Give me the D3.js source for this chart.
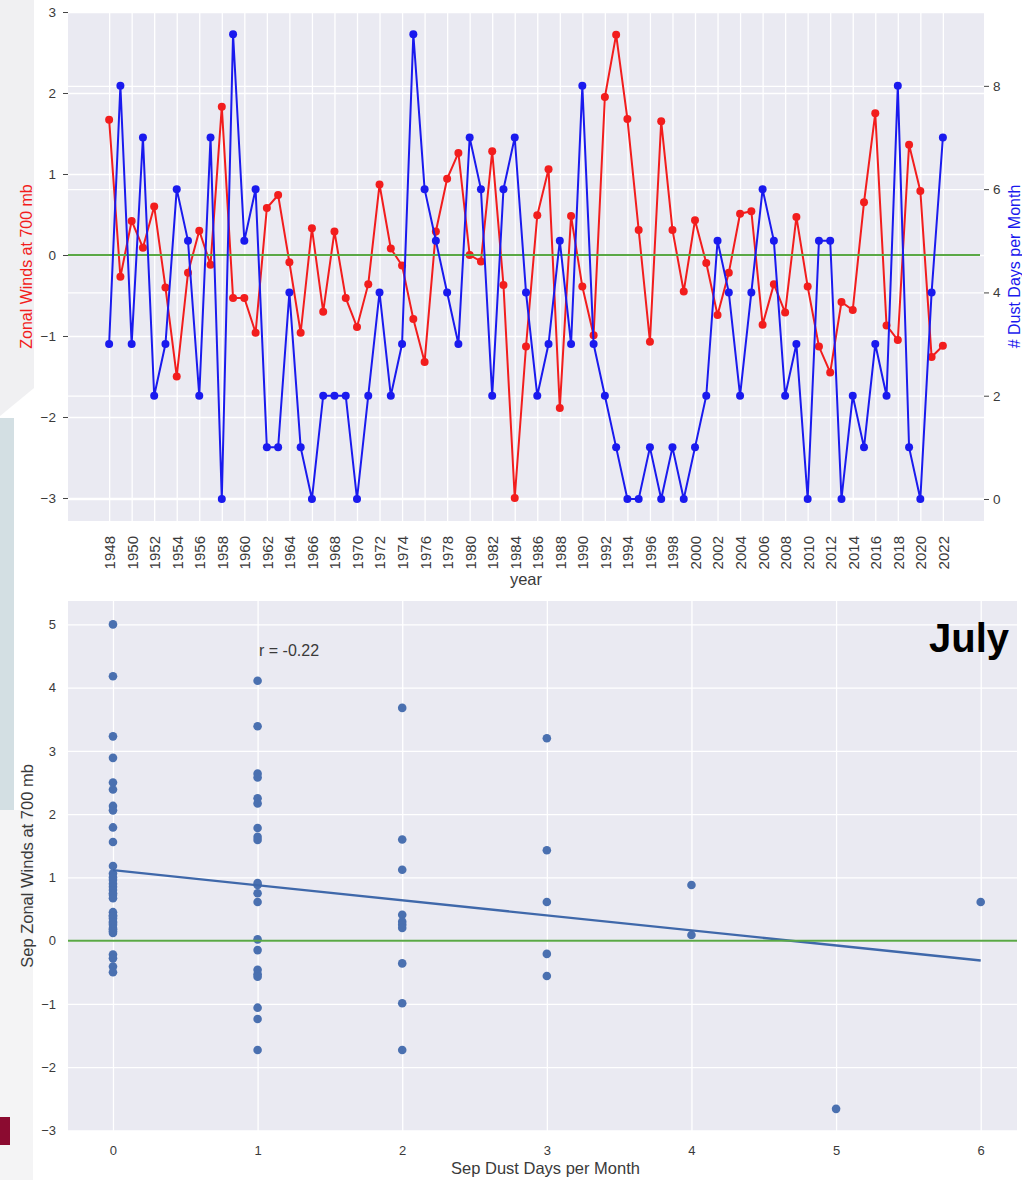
<!DOCTYPE html>
<html>
<head>
<meta charset="utf-8">
<script src="https://cdn.jsdelivr.net/npm/d3@7"></script>
<style>
  body { margin: 0; background: #fff; }
  svg { display: block; font-family: "Liberation Sans", Arial, sans-serif; }
</style>
</head>
<body>
<svg id="fig" width="1022" height="1180"></svg>
<script>
// ---- yearly series (top panel) ----
const years = [1948,1949,1950,1951,1952,1953,1954,1955,1956,1957,1958,1959,1960,1961,1962,1963,1964,1965,1966,1967,
  1968,1969,1970,1971,1972,1973,1974,1975,1976,1977,1978,1979,1980,1981,1982,1983,1984,1985,1986,1987,
  1988,1989,1990,1991,1992,1993,1994,1995,1996,1997,1998,1999,2000,2001,2002,2003,2004,2005,2006,2007,
  2008,2009,2010,2011,2012,2013,2014,2015,2016,2017,2018,2019,2020,2021,2022];
const zonalWinds = [1.67,-0.27,0.42,0.09,0.60,-0.40,-1.50,-0.22,0.30,-0.12,1.83,-0.53,-0.53,-0.96,0.58,0.74,-0.09,-0.96,0.33,-0.70,
  0.29,-0.53,-0.89,-0.36,0.87,0.08,-0.13,-0.79,-1.32,0.29,0.94,1.26,0.00,-0.08,1.28,-0.37,-3.00,-1.13,0.49,1.06,
  -1.89,0.48,-0.39,-0.99,1.95,2.72,1.68,0.31,-1.07,1.65,0.31,-0.45,0.43,-0.10,-0.74,-0.22,0.51,0.54,-0.86,-0.36,
  -0.71,0.47,-0.39,-1.13,-1.45,-0.58,-0.68,0.65,1.75,-0.87,-1.05,1.36,0.79,-1.26,-1.12];
const dustDays = [3,8,3,7,2,3,6,5,2,7,0,9,5,6,1,1,4,1,0,2,
  2,2,0,2,4,2,3,9,6,5,4,3,7,6,2,6,7,4,2,3,
  5,3,8,3,2,1,0,0,1,0,1,0,1,2,5,4,2,4,6,5,
  2,3,0,5,5,0,2,1,3,2,8,1,0,4,7];
const yearTicks = [1948,1950,1952,1954,1956,1958,1960,1962,1964,1966,1968,1970,1972,1974,1976,1978,1980,1982,1984,1986,
  1988,1990,1992,1994,1996,1998,2000,2002,2004,2006,2008,2010,2012,2014,2016,2018,2020,2022];
const windTicks = [-3,-2,-1,0,1,2,3];
const dustTicks = [0,2,4,6,8];

// ---- September scatter (bottom panel) ----
const sepDustDays = [
  0,0,0,0,0,0,0,0,0,0,0,0,0,0,0,0,0,0,0,0,0,0,0,0,0,0,0,0,0,0,0,0,0,0,0,
  1,1,1,1,1,1,1,1,1,1,1,1,1,1,1,1,1,1,1,1,1,
  2,2,2,2,2,2,2,2,2,2,
  3,3,3,3,3,
  4,4,
  5,
  6];
const sepZonalWinds = [
  5.00,4.18,3.23,2.89,2.50,2.39,2.13,2.06,1.79,1.56,1.18,1.06,1.00,0.96,0.90,0.85,0.80,0.75,0.72,0.67,
  0.45,0.40,0.38,0.35,0.30,0.28,0.25,0.20,0.18,0.15,0.12,-0.22,-0.28,-0.41,-0.50,
  4.11,3.39,2.64,2.58,2.25,2.17,1.78,1.64,1.59,0.91,0.88,0.75,0.61,0.02,-0.15,-0.46,-0.53,-0.57,-1.06,-1.24,-1.73,
  3.68,1.60,1.12,0.41,0.30,0.25,0.20,-0.36,-0.99,-1.73,
  3.20,1.43,0.61,-0.21,-0.56,
  0.88,0.09,
  -2.66,
  0.61];
const scatterXTicks = [0,1,2,3,4,5,6];
const scatterYTicks = [-3,-2,-1,0,1,2,3,4,5];
const correlationLabel = "r = -0.22";
const monthLabel = "July";

const svg = d3.select("#fig");
const minus = d => d < 0 ? "\u2212" + Math.abs(d) : String(d);
const GRID_BG = "#eaeaf2";
const TEXT = "#3a3a3a";
const GREEN = "#5aa846";
const RED = "#f21d1d";
const BLUE = "#1a1aee";

// ---- slide decoration on the left edge ----
svg.append("polygon").attr("points", "0,0 34,0 34,388 0,416").attr("fill", "#f0f0f2");
svg.append("rect").attr("x", 0).attr("y", 418).attr("width", 14).attr("height", 392).attr("fill", "#d3dfe3");
svg.append("rect").attr("x", 0).attr("y", 810).attr("width", 33).attr("height", 370).attr("fill", "#f4f4f5");
svg.append("rect").attr("x", 0).attr("y", 1117).attr("width", 10).attr("height", 28).attr("fill", "#8b0b30");

// =========== top panel: time series on twin axes ===========
const P1 = { l: 68, r: 984, t: 12, b: 521 };
const x1 = d3.scaleLinear().domain([1944.35, 2025.65]).range([P1.l, P1.r]);
const yL = d3.scaleLinear().domain([-3.284, 3.0]).range([P1.b, P1.t]);
const yR = d3.scaleLinear().domain([-0.426, 9.43]).range([P1.b, P1.t]);

const g1 = svg.append("g");
g1.append("rect").attr("x", P1.l).attr("y", P1.t).attr("width", P1.r - P1.l).attr("height", P1.b - P1.t).attr("fill", GRID_BG);

function gridStyle(sel) {
  sel.select(".domain").remove();
  sel.selectAll("text").remove();
  sel.selectAll("line").attr("stroke", "#fff").attr("stroke-width", 1.3);
}
g1.append("g").attr("transform", `translate(0,${P1.b})`)
  .call(d3.axisBottom(x1).tickValues(yearTicks).tickSize(-(P1.b - P1.t))).call(gridStyle);
g1.append("g").attr("transform", `translate(${P1.l},0)`)
  .call(d3.axisLeft(yL).tickValues(windTicks).tickSize(-(P1.r - P1.l))).call(gridStyle);
g1.append("g").attr("transform", `translate(${P1.l},0)`)
  .call(d3.axisLeft(yR).tickValues(dustTicks).tickSize(-(P1.r - P1.l))).call(gridStyle);

// red series (left axis)
const windPts = years.map((y, i) => [y, zonalWinds[i]]);
g1.append("path").datum(windPts)
  .attr("fill", "none").attr("stroke", RED).attr("stroke-width", 2)
  .attr("d", d3.line().x(d => x1(d[0])).y(d => yL(d[1])));
g1.append("g").selectAll("circle").data(windPts).join("circle")
  .attr("cx", d => x1(d[0])).attr("cy", d => yL(d[1])).attr("r", 4).attr("fill", RED);

// zero reference line
g1.append("line").attr("x1", P1.l).attr("x2", P1.r - 4).attr("y1", yL(0)).attr("y2", yL(0))
  .attr("stroke", GREEN).attr("stroke-width", 2);

// blue series (right axis)
const dustPts = years.map((y, i) => [y, dustDays[i]]);
g1.append("path").datum(dustPts)
  .attr("fill", "none").attr("stroke", BLUE).attr("stroke-width", 2)
  .attr("d", d3.line().x(d => x1(d[0])).y(d => yR(d[1])));
g1.append("g").selectAll("circle").data(dustPts).join("circle")
  .attr("cx", d => x1(d[0])).attr("cy", d => yR(d[1])).attr("r", 4).attr("fill", BLUE);

// axes with labels
function tickText(sel, size) {
  sel.select(".domain").remove();
  sel.selectAll("line").attr("stroke", "#444").attr("stroke-width", 1);
  sel.selectAll("text").attr("fill", TEXT).attr("font-size", size).attr("font-family", '"Liberation Sans", Arial, sans-serif');
}
g1.append("g").attr("transform", `translate(${P1.l},0)`)
  .call(d3.axisLeft(yL).tickValues(windTicks).tickSize(5).tickPadding(7).tickFormat(minus))
  .call(s => tickText(s, 13.5));
g1.append("g").attr("transform", `translate(${P1.r},0)`)
  .call(d3.axisRight(yR).tickValues(dustTicks).tickSize(5).tickPadding(4).tickFormat(minus))
  .call(s => tickText(s, 13.5));
const xAx1 = g1.append("g").attr("transform", `translate(0,${P1.b})`)
  .call(d3.axisBottom(x1).tickValues(yearTicks).tickSize(0).tickFormat(d3.format("d")))
  .call(s => tickText(s, 15));
xAx1.selectAll("text")
  .attr("transform", "rotate(-90)")
  .attr("text-anchor", "end")
  .attr("x", -15).attr("y", 0).attr("dy", "0.36em");

g1.append("text").attr("transform", `translate(32,${(P1.t + P1.b) / 2}) rotate(-90)`)
  .attr("text-anchor", "middle").attr("font-size", 16).attr("fill", RED)
  .text("Zonal Winds at 700 mb");
g1.append("text").attr("transform", `translate(1019.5,${(P1.t + P1.b) / 2}) rotate(-90)`)
  .attr("text-anchor", "middle").attr("font-size", 16).attr("fill", BLUE)
  .text("# Dust Days per Month");
g1.append("text").attr("x", (P1.l + P1.r) / 2).attr("y", 585)
  .attr("text-anchor", "middle").attr("font-size", 16.5).attr("fill", TEXT).text("year");

// =========== bottom panel: scatter with least-squares fit ===========
const P2 = { l: 68, r: 1017, t: 601, b: 1131 };
const x2 = d3.scaleLinear().domain([-0.311, 6.251]).range([P2.l, P2.r]);
const y2 = d3.scaleLinear().domain([-3.01, 5.37]).range([P2.b, P2.t]);

const g2 = svg.append("g");
g2.append("rect").attr("x", P2.l).attr("y", P2.t).attr("width", P2.r - P2.l).attr("height", P2.b - P2.t).attr("fill", GRID_BG);
g2.append("g").attr("transform", `translate(0,${P2.b})`)
  .call(d3.axisBottom(x2).tickValues(scatterXTicks).tickSize(-(P2.b - P2.t))).call(gridStyle);
g2.append("g").attr("transform", `translate(${P2.l},0)`)
  .call(d3.axisLeft(y2).tickValues(scatterYTicks).tickSize(-(P2.r - P2.l))).call(gridStyle);

const pairs = sepDustDays.map((d, i) => [d, sepZonalWinds[i]]);
const SCATTER = "#4a70b0";
g2.append("g").selectAll("circle").data(pairs).join("circle")
  .attr("cx", d => x2(d[0])).attr("cy", d => y2(d[1])).attr("r", 4.3).attr("fill", SCATTER);

// ordinary least squares fit through the points
const mx = d3.mean(sepDustDays), my = d3.mean(sepZonalWinds);
const sxy = d3.sum(pairs, d => (d[0] - mx) * (d[1] - my));
const sxx = d3.sum(sepDustDays, d => (d - mx) * (d - mx));
const slope = sxy / sxx, intercept = my - slope * mx;
const [xmin, xmax] = d3.extent(sepDustDays);
g2.append("line")
  .attr("x1", x2(xmin)).attr("y1", y2(intercept + slope * xmin))
  .attr("x2", x2(xmax)).attr("y2", y2(intercept + slope * xmax))
  .attr("stroke", "#3f68aa").attr("stroke-width", 2.3);

g2.append("line").attr("x1", P2.l).attr("x2", P2.r).attr("y1", y2(0)).attr("y2", y2(0))
  .attr("stroke", GREEN).attr("stroke-width", 2);

g2.append("g").attr("transform", `translate(${P2.l},0)`)
  .call(d3.axisLeft(y2).tickValues(scatterYTicks).tickSize(0).tickPadding(12).tickFormat(minus))
  .call(s => tickText(s, 13));
g2.append("g").attr("transform", `translate(0,${P2.b})`)
  .call(d3.axisBottom(x2).tickValues(scatterXTicks).tickSize(0).tickPadding(15).tickFormat(d3.format("d")))
  .call(s => tickText(s, 13));

g2.append("text").attr("transform", `translate(33,${(P2.t + P2.b) / 2}) rotate(-90)`)
  .attr("text-anchor", "middle").attr("font-size", 16.5).attr("fill", TEXT)
  .text("Sep Zonal Winds at 700 mb");
g2.append("text").attr("x", (P2.l + P2.r) / 2 + 3).attr("y", 1174)
  .attr("text-anchor", "middle").attr("font-size", 16.5).attr("fill", TEXT)
  .text("Sep Dust Days per Month");
g2.append("text").attr("x", 259).attr("y", 656)
  .attr("font-size", 16).attr("fill", TEXT).text(correlationLabel);
g2.append("text").attr("x", 929).attr("y", 652)
  .attr("font-size", 40).attr("font-weight", "bold").attr("fill", "#000").text(monthLabel);
</script>
</body>
</html>
